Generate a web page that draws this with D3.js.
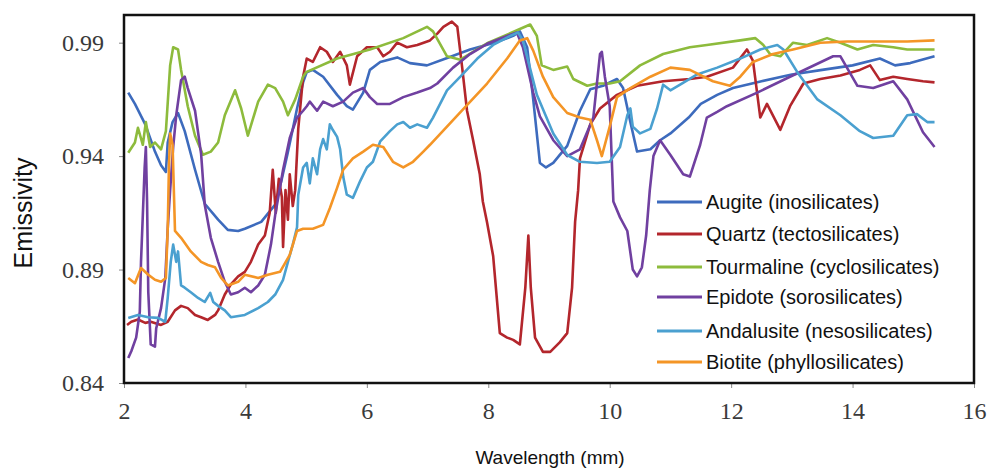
<!DOCTYPE html>
<html>
<head>
<meta charset="utf-8">
<script src="https://cdn.jsdelivr.net/npm/d3@7"></script>
<style>
  body { margin: 0; background: #fff; }
  .tick line { stroke: #888; }
  .domain { display: none; }
  .axis-title { font-family: "Liberation Sans", Arial, sans-serif; fill: #111; }
  .legend text { font-family: "Liberation Sans", Arial, sans-serif; font-size: 20px; fill: #111; }
</style>
</head>
<body>
<div id="chart"></div>
<script>
// wavelength / emissivity pairs
var names = ["Augite (inosilicates)", "Quartz (tectosilicates)", "Tourmaline (cyclosilicates)",
             "Epidote (sorosilicates)", "Andalusite (nesosilicates)", "Biotite (phyllosilicates)"];
var colors = ["#3d6bbd", "#b3262c", "#8dbb3c", "#7040a0", "#4aa0d0", "#f49526"];

var xTicks = [2, 4, 6, 8, 10, 12, 14, 16];
var yTicks = [0.84, 0.89, 0.94, 0.99];

var augite = [[2.07,0.968],[2.18,0.963],[2.35,0.954],[2.51,0.942],[2.61,0.936],[2.69,0.933],[2.72,0.946],[2.80,0.955],[2.89,0.959],[3.0,0.951],[3.17,0.934],[3.33,0.919],[3.55,0.912],[3.71,0.9075],[3.88,0.907],[3.99,0.908],[4.26,0.911],[4.49,0.9186],[4.6,0.93],[4.69,0.9406],[4.78,0.952],[4.85,0.961],[4.95,0.9725],[5.01,0.977],[5.11,0.978],[5.28,0.975],[5.51,0.967],[5.67,0.962],[5.77,0.9605],[5.94,0.968],[6.05,0.978],[6.22,0.9815],[6.50,0.9835],[6.71,0.981],[6.99,0.980],[7.3,0.983],[7.7,0.987],[8.1,0.990],[8.41,0.993],[8.52,0.995],[8.64,0.988],[8.74,0.965],[8.85,0.937],[8.95,0.935],[9.07,0.937],[9.30,0.9445],[9.51,0.960],[9.68,0.9695],[9.89,0.971],[10.12,0.974],[10.22,0.970],[10.34,0.955],[10.45,0.942],[10.67,0.943],[10.83,0.947],[11.0,0.950],[11.3,0.957],[11.5,0.963],[11.77,0.967],[12.03,0.970],[12.5,0.973],[13.0,0.976],[13.5,0.978],[14.0,0.980],[14.45,0.983],[14.7,0.980],[14.95,0.981],[15.35,0.984]];

var quartz = [[2.05,0.8656],[2.12,0.867],[2.23,0.868],[2.35,0.8665],[2.44,0.867],[2.61,0.8656],[2.72,0.867],[2.84,0.872],[2.94,0.874],[3.05,0.873],[3.17,0.870],[3.27,0.869],[3.38,0.8678],[3.50,0.870],[3.55,0.872],[3.66,0.879],[3.76,0.8835],[3.88,0.887],[3.99,0.889],[4.09,0.8934],[4.21,0.901],[4.32,0.905],[4.40,0.915],[4.45,0.934],[4.50,0.915],[4.55,0.93],[4.60,0.922],[4.62,0.900],[4.66,0.925],[4.70,0.912],[4.73,0.932],[4.78,0.918],[4.82,0.925],[4.87,0.952],[4.95,0.975],[5.01,0.983],[5.11,0.9815],[5.23,0.988],[5.34,0.986],[5.44,0.9815],[5.56,0.986],[5.67,0.980],[5.72,0.9715],[5.84,0.984],[6.0,0.988],[6.17,0.988],[6.27,0.984],[6.38,0.986],[6.50,0.990],[6.66,0.988],[6.83,0.989],[7.04,0.991],[7.16,0.994],[7.26,0.997],[7.40,0.9993],[7.49,0.997],[7.57,0.979],[7.65,0.960],[7.75,0.947],[7.86,0.932],[7.91,0.920],[7.98,0.9107],[8.08,0.896],[8.19,0.862],[8.31,0.860],[8.41,0.859],[8.52,0.857],[8.61,0.882],[8.66,0.905],[8.70,0.882],[8.77,0.860],[8.90,0.8537],[9.02,0.8537],[9.18,0.858],[9.30,0.862],[9.38,0.882],[9.43,0.911],[9.48,0.925],[9.51,0.939],[9.68,0.954],[9.84,0.961],[10.12,0.967],[10.45,0.971],[10.88,0.973],[11.32,0.974],[11.60,0.975],[12.03,0.979],[12.26,0.987],[12.36,0.982],[12.48,0.957],[12.59,0.963],[12.81,0.9516],[12.97,0.962],[13.19,0.972],[13.47,0.974],[13.80,0.9755],[14.12,0.978],[14.29,0.980],[14.45,0.9735],[14.67,0.975],[14.90,0.974],[15.16,0.973],[15.35,0.9725]];

var tourmaline = [[2.07,0.9415],[2.18,0.946],[2.23,0.9525],[2.31,0.945],[2.36,0.955],[2.43,0.944],[2.51,0.946],[2.61,0.943],[2.69,0.951],[2.76,0.980],[2.81,0.988],[2.89,0.987],[2.94,0.978],[3.05,0.962],[3.17,0.949],[3.30,0.9406],[3.43,0.942],[3.55,0.946],[3.66,0.958],[3.83,0.969],[3.93,0.961],[4.04,0.949],[4.21,0.964],[4.37,0.9715],[4.49,0.970],[4.62,0.964],[4.70,0.958],[4.82,0.965],[4.95,0.975],[5.0,0.977],[5.51,0.983],[6.05,0.987],[6.60,0.992],[6.99,0.997],[7.09,0.995],[7.32,0.984],[7.54,0.9825],[7.75,0.986],[8.0,0.990],[8.52,0.996],[8.69,0.998],[8.80,0.993],[8.88,0.980],[9.07,0.978],[9.30,0.9795],[9.40,0.974],[9.63,0.971],[9.79,0.972],[10.0,0.972],[10.17,0.973],[10.50,0.980],[10.88,0.985],[11.32,0.988],[11.60,0.989],[12.15,0.991],[12.40,0.992],[12.53,0.989],[12.64,0.985],[12.81,0.984],[13.02,0.990],[13.25,0.989],[13.58,0.992],[13.80,0.990],[14.08,0.987],[14.34,0.989],[14.67,0.988],[14.90,0.987],[15.35,0.987]];

var epidote = [[2.07,0.851],[2.12,0.854],[2.20,0.860],[2.26,0.8713],[2.28,0.8934],[2.31,0.914],[2.34,0.935],[2.36,0.944],[2.38,0.92],[2.40,0.88],[2.44,0.857],[2.51,0.856],[2.53,0.864],[2.61,0.873],[2.68,0.8862],[2.72,0.908],[2.76,0.925],[2.81,0.944],[2.86,0.958],[2.94,0.9735],[3.0,0.975],[3.05,0.970],[3.17,0.960],[3.27,0.941],[3.33,0.9186],[3.43,0.904],[3.55,0.8934],[3.66,0.8846],[3.76,0.879],[3.88,0.880],[3.99,0.882],[4.09,0.880],[4.21,0.883],[4.32,0.8877],[4.42,0.901],[4.49,0.914],[4.62,0.934],[4.73,0.948],[4.85,0.957],[4.95,0.960],[5.01,0.962],[5.06,0.964],[5.18,0.960],[5.28,0.964],[5.44,0.962],[5.61,0.964],[5.77,0.968],[5.94,0.970],[6.05,0.966],[6.17,0.963],[6.38,0.963],[6.60,0.966],[6.83,0.968],[7.04,0.970],[7.16,0.972],[7.42,0.979],[7.70,0.985],[7.98,0.9895],[8.31,0.993],[8.47,0.9945],[8.57,0.988],[8.74,0.968],[8.85,0.9575],[9.07,0.947],[9.30,0.940],[9.51,0.943],[9.73,0.957],[9.84,0.985],[9.87,0.986],[9.92,0.975],[10.0,0.962],[10.06,0.920],[10.17,0.913],[10.29,0.907],[10.38,0.890],[10.45,0.887],[10.53,0.891],[10.60,0.905],[10.66,0.925],[10.72,0.940],[10.83,0.947],[11.0,0.9405],[11.21,0.932],[11.32,0.931],[11.49,0.945],[11.60,0.957],[11.77,0.9595],[11.93,0.962],[12.43,0.968],[12.97,0.975],[13.68,0.984],[13.80,0.984],[14.08,0.971],[14.34,0.970],[14.67,0.973],[14.90,0.965],[15.16,0.9505],[15.35,0.944]];

var andalusite = [[2.07,0.8687],[2.23,0.870],[2.40,0.869],[2.56,0.8687],[2.68,0.867],[2.72,0.8775],[2.77,0.8934],[2.81,0.901],[2.86,0.8934],[2.89,0.898],[2.94,0.883],[3.0,0.882],[3.10,0.880],[3.22,0.8775],[3.33,0.8757],[3.42,0.8797],[3.47,0.8757],[3.55,0.874],[3.66,0.872],[3.76,0.869],[3.99,0.870],[4.21,0.873],[4.37,0.8757],[4.49,0.879],[4.62,0.8855],[4.70,0.8934],[4.78,0.901],[4.85,0.9086],[4.87,0.923],[4.95,0.935],[5.01,0.937],[5.06,0.928],[5.11,0.939],[5.18,0.932],[5.23,0.943],[5.28,0.9475],[5.34,0.943],[5.39,0.954],[5.44,0.9515],[5.51,0.9485],[5.56,0.943],[5.61,0.931],[5.67,0.923],[5.77,0.9216],[5.89,0.929],[6.0,0.935],[6.10,0.9375],[6.22,0.9465],[6.38,0.951],[6.50,0.954],[6.60,0.955],[6.71,0.9525],[6.83,0.954],[6.99,0.9525],[7.09,0.957],[7.32,0.969],[7.54,0.975],[7.82,0.983],[8.08,0.989],[8.36,0.993],[8.49,0.9945],[8.57,0.991],[8.80,0.967],[9.07,0.950],[9.30,0.9405],[9.51,0.9375],[9.79,0.937],[10.0,0.9375],[10.17,0.944],[10.29,0.958],[10.34,0.961],[10.38,0.953],[10.50,0.950],[10.67,0.952],[10.78,0.961],[10.88,0.9715],[11.0,0.969],[11.16,0.9715],[11.44,0.976],[11.77,0.979],[12.15,0.983],[12.48,0.987],[12.76,0.989],[12.86,0.987],[13.09,0.977],[13.42,0.965],[13.80,0.958],[14.12,0.951],[14.34,0.948],[14.67,0.949],[14.90,0.958],[15.06,0.9585],[15.23,0.955],[15.35,0.955]];

var biotite = [[2.07,0.8863],[2.18,0.884],[2.28,0.8907],[2.40,0.8877],[2.51,0.8855],[2.61,0.8846],[2.69,0.8863],[2.72,0.908],[2.74,0.935],[2.76,0.950],[2.80,0.945],[2.84,0.907],[2.94,0.904],[3.10,0.898],[3.27,0.8934],[3.38,0.892],[3.50,0.891],[3.60,0.8863],[3.71,0.883],[3.88,0.8846],[3.99,0.8877],[4.21,0.8863],[4.37,0.8877],[4.57,0.889],[4.73,0.8965],[4.85,0.907],[4.95,0.908],[5.11,0.908],[5.28,0.9097],[5.39,0.917],[5.51,0.926],[5.61,0.934],[5.77,0.939],[5.94,0.942],[6.10,0.945],[6.27,0.944],[6.43,0.9375],[6.60,0.935],[6.76,0.9375],[6.93,0.942],[7.04,0.945],[7.58,0.9605],[7.98,0.972],[8.31,0.983],[8.52,0.991],[8.64,0.992],[8.74,0.9865],[8.90,0.975],[9.07,0.966],[9.30,0.959],[9.51,0.957],[9.68,0.956],[9.79,0.947],[9.87,0.940],[10.0,0.953],[10.12,0.966],[10.34,0.970],[10.67,0.975],[11.0,0.979],[11.32,0.978],[11.70,0.973],[11.98,0.971],[12.15,0.975],[12.36,0.9815],[12.69,0.985],[13.02,0.987],[13.47,0.990],[13.91,0.9905],[14.45,0.9905],[14.90,0.9905],[15.35,0.991]];

var series = [augite, quartz, tourmaline, epidote, andalusite, biotite];

var W = 990, H = 470;
var margin = {top: 15, right: 16, bottom: 87, left: 124};

var svg = d3.select("#chart").append("svg")
    .attr("width", W).attr("height", H);

var x = d3.scaleLinear().domain([2, 16]).range([margin.left, W - margin.right]);
var y = d3.scaleLinear().domain([0.84, 1.0022]).range([H - margin.bottom, margin.top]);

// axes, serif tick labels like the original
var xAxis = svg.append("g")
    .attr("transform", "translate(0," + (H - margin.bottom) + ")")
    .call(d3.axisBottom(x).tickValues(xTicks).tickSize(5).tickPadding(14).tickFormat(d3.format("d")));

var yAxis = svg.append("g")
    .attr("transform", "translate(" + margin.left + ",0)")
    .call(d3.axisLeft(y).tickValues(yTicks).tickSize(5).tickPadding(15).tickFormat(d3.format(".2f")));

[xAxis, yAxis].forEach(function(g) {
    g.attr("font-family", "'Liberation Serif', 'Times New Roman', serif")
     .attr("font-size", 24);
    g.selectAll(".tick text").attr("fill", "#3a3a3a");
});

// lines
var line = d3.line()
    .x(function(d) { return x(d[0]); })
    .y(function(d) { return y(d[1]); });

svg.append("g").selectAll("path").data(series).enter().append("path")
    .attr("d", line)
    .attr("fill", "none")
    .attr("stroke", function(d, i) { return colors[i]; })
    .attr("stroke-width", 2.6)
    .attr("stroke-linejoin", "round");

// legend
var legendRows = [202, 234, 267, 297, 331, 362];
var leg = svg.append("g").attr("class", "legend");
leg.append("rect")
    .attr("x", 652).attr("y", 186).attr("width", 318).attr("height", 192)
    .attr("fill", "#fff");

var row = leg.selectAll("g").data(names).enter().append("g")
    .attr("transform", function(d, i) { return "translate(0," + legendRows[i] + ")"; });
row.append("line")
    .attr("x1", 657).attr("x2", 702)
    .attr("stroke", function(d, i) { return colors[i]; })
    .attr("stroke-width", 2.8);
row.append("text")
    .attr("x", 706).attr("dy", "0.35em")
    .text(function(d) { return d; });

// frame
svg.append("rect")
    .attr("x", margin.left).attr("y", margin.top)
    .attr("width", W - margin.left - margin.right)
    .attr("height", H - margin.top - margin.bottom)
    .attr("fill", "none").attr("stroke", "#111").attr("stroke-width", 2.5);

// axis titles
svg.append("text").attr("class", "axis-title")
    .attr("x", 550).attr("y", 464)
    .attr("font-size", 19)
    .attr("text-anchor", "middle")
    .text("Wavelength (mm)");

svg.append("text").attr("class", "axis-title")
    .attr("transform", "translate(32,213) rotate(-90)")
    .attr("font-size", 25)
    .attr("text-anchor", "middle")
    .text("Emissivity");
</script>
</body>
</html>
